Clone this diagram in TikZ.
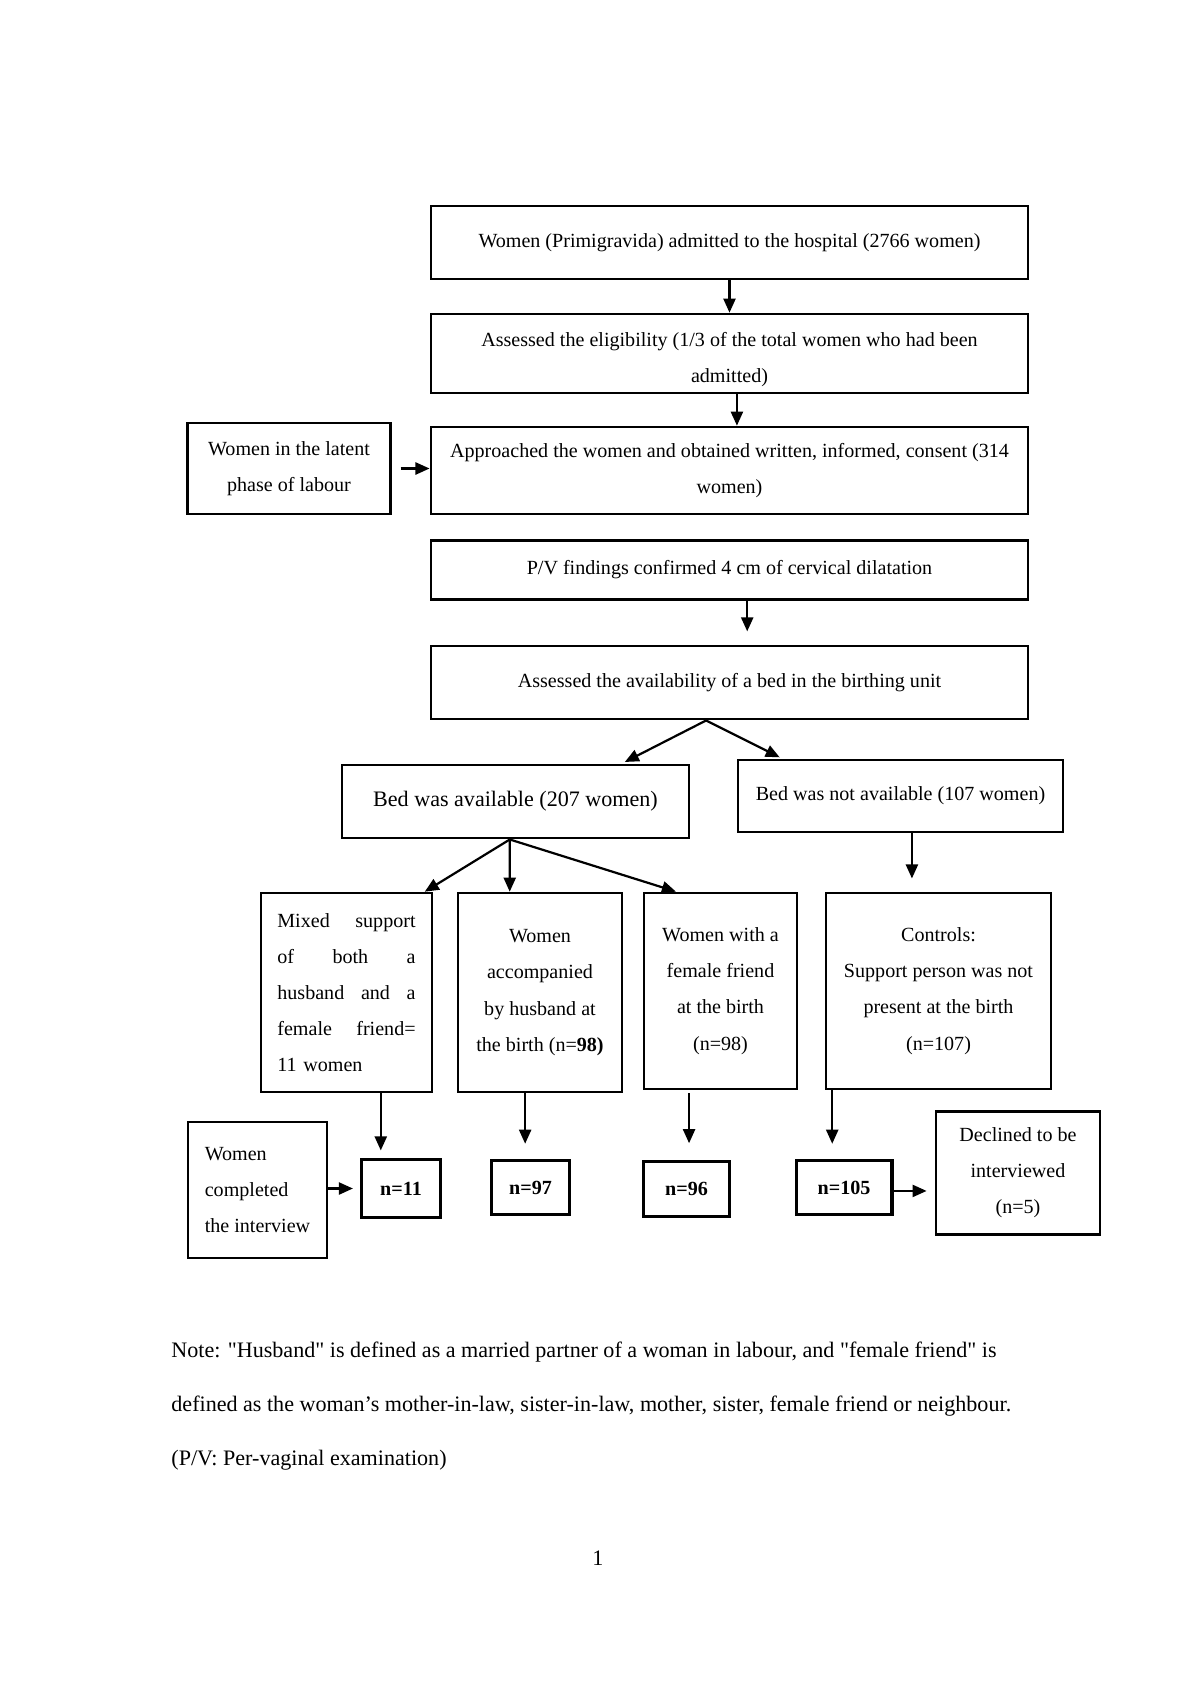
\documentclass[tikz,border=0pt]{standalone}
\usepackage{fontspec}
\setmainfont{Liberation Serif}
\usetikzlibrary{arrows.meta}

\begin{document}
\begin{tikzpicture}[x=0.0175cm, y=-0.0175cm,
    box/.style={draw, line width=1.4pt, inner sep=2pt, align=center, font=\fontsize{10}{18}\selectfont},
    nbox/.style={draw, line width=1.5pt, minimum height=0.96cm, font=\fontsize{10}{12}\selectfont\bfseries},
    arr/.style={-{Triangle[length=7pt,width=6pt]}, line width=1.1pt},
    note/.style={anchor=mid west, inner sep=0pt, font=\fontsize{11}{13}\selectfont}]
    \useasboundingbox (0,0) rectangle (1200,1697);

    % Main column
    \node[box, minimum width=10.45cm, minimum height=1.28cm] (admit) at (729.5,242.5)
        {Women (Primigravida) admitted to the hospital (2766 women)};
    \node[box, minimum width=10.45cm, minimum height=1.38cm] (elig) at (729.5,353.5)
        {\rule{0pt}{13pt}Assessed the eligibility (1/3 of the total women who had been\\ admitted)};
    \node[box, minimum width=10.45cm, minimum height=1.52cm] (consent) at (729.5,470.5)
        {Approached the women and obtained written, informed, consent (314\\ women)};
    \node[box, minimum width=3.54cm, minimum height=1.59cm] (latent) at (289,468.5)
        {Women in the latent\\ phase of labour};
    \node[box, minimum width=10.45cm, minimum height=1.02cm] (pv) at (729.5,570)
        {P/V findings confirmed 4 cm of cervical dilatation};
    \node[box, minimum width=10.45cm, minimum height=1.28cm] (avail) at (729.5,682.5)
        {Assessed the availability of a bed in the birthing unit};

    % Bed or no bed
    \node[box, minimum width=6.07cm, minimum height=1.28cm, font=\fontsize{11}{18}\selectfont] (bedyes) at (515.5,801.5)
        {Bed was available (207 women)};
    \node[box, minimum width=5.69cm, minimum height=1.26cm] (bedno) at (900.5,796)
        {Bed was not available (107 women)};

    % Support groups
    \node[box, minimum width=2.99cm, minimum height=3.48cm, text width=2.42cm, align=left] (mixed) at (346.5,992.5)
        {Mixed\hfill support\\ of\hfill both\hfill a\\ husband\hfill and\hfill a\\ female\hfill friend=\\ 11 women};
    \node[box, minimum width=2.87cm, minimum height=3.48cm] (husb) at (540,992.5)
        {Women\\ accompanied\\ by husband at\\ the birth (n=\textbf{98)}};
    \node[box, minimum width=2.68cm, minimum height=3.43cm] (friend) at (720.5,991)
        {Women with a\\ female friend\\ at the birth\\ (n=98)};
    \node[box, minimum width=3.94cm, minimum height=3.43cm] (ctrl) at (938.5,991)
        {Controls:\\ Support person was not\\ present at the birth\\ (n=107)};

    % Interviewed
    \node[box, minimum width=2.43cm, minimum height=2.38cm, align=left] (done) at (257.5,1190)
        {Women\\ completed\\ the interview};
    \node[nbox, minimum width=1.37cm, minimum height=1.0cm] (n11) at (401,1188.5) {n=11};
    \node[nbox, minimum width=1.35cm] (n97) at (530.5,1187.5) {n=97};
    \node[nbox, minimum width=1.49cm, minimum height=0.95cm] (n96) at (686.5,1189) {n=96};
    \node[nbox, minimum width=1.68cm] (n105) at (844,1187.5) {n=105};
    \node[box, minimum width=2.87cm, minimum height=2.14cm] (declined) at (1018,1173)
        {Declined to be\\ interviewed\\ (n=5)};

    % Arrows
    \draw[arr] (admit.south) -- (elig.north);
    \draw[arr] ([xshift=0.13cm]elig.south) -- ([xshift=0.13cm]consent.north);
    \draw[arr, shorten <=0.16cm] (latent.east) -- (latent.east -| consent.west);
    \draw[arr, shorten >=0.23cm] ([xshift=0.31cm]pv.south) -- ([xshift=0.31cm]pv.south |- avail.north);
    \draw[arr, shorten >=0.06cm] ([xshift=-0.41cm]avail.south) -- ([xshift=1.86cm]bedyes.north);
    \draw[arr, shorten >=0.05cm] ([xshift=-0.41cm]avail.south) -- ([xshift=-2.07cm]bedno.north);
    \draw[arr] ([xshift=-0.10cm]bedyes.south) -- ([xshift=1.37cm]mixed.north);
    \draw[arr] ([xshift=-0.10cm]bedyes.south) -- ([xshift=-0.53cm]husb.north);
    \draw[arr] ([xshift=-0.10cm]bedyes.south) -- ([xshift=-0.78cm]friend.north);
    \draw[arr, shorten >=0.23cm] ([xshift=0.20cm]bedno.south) -- ([xshift=0.20cm]bedno.south |- ctrl.north);
    \draw[arr, shorten >=0.14cm] ([xshift=0.60cm]mixed.south) -- ([xshift=0.60cm]mixed.south |- n11.north);
    \draw[arr, shorten >=0.26cm] ([xshift=-0.26cm]husb.south) -- ([xshift=-0.26cm]husb.south |- n97.north);
    \draw[arr, shorten <=0.05cm, shorten >=0.30cm] ([xshift=-0.55cm]friend.south) -- ([xshift=-0.55cm]friend.south |- n96.north);
    \draw[arr, shorten >=0.26cm] ([xshift=-1.86cm]ctrl.south) -- ([xshift=-1.86cm]ctrl.south |- n105.north);
    \draw[arr, shorten >=0.13cm] (done.east |- n11.west) -- (n11.west);
    \draw[arr, shorten >=0.14cm] ([yshift=-0.06cm]n105.east) -- ([yshift=-0.06cm]n105.east -| declined.west);

    % Note under the chart
    \node[note] (note1) at (171,1353) {Note: \textquotedbl Husband\textquotedbl{} is defined as a married partner of a woman in labour, and \textquotedbl female friend\textquotedbl{} is};
    \node[note] (note2) at (171,1407) {defined as the woman's mother-in-law, sister-in-law, mother, sister, female friend or neighbour.};
    \node[note] (note3) at (171,1461) {(P/V: Per-vaginal examination)};
    \node[font=\fontsize{11}{13}\selectfont] (page) at (598,1558) {1};
\end{tikzpicture}
\end{document}
